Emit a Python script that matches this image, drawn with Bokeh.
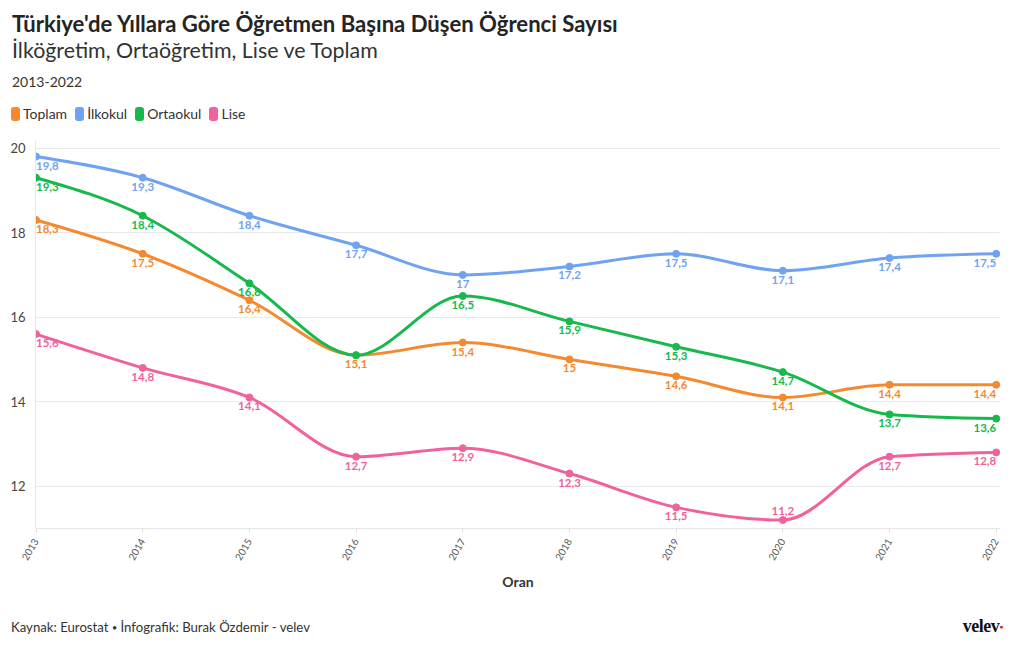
import math
import numpy as np
from bokeh.plotting import figure
from bokeh.layouts import column
from bokeh.models import Range1d, FixedTicker, ColumnDataSource, Div
from bokeh.core.properties import value
from bokeh.embed import file_html
from bokeh.resources import INLINE

# ---------------- data ----------------
years = [2013, 2014, 2015, 2016, 2017, 2018, 2019, 2020, 2021, 2022]
toplam = [18.3, 17.5, 16.4, 15.1, 15.4, 15.0, 14.6, 14.1, 14.4, 14.4]
ilkokul = [19.8, 19.3, 18.4, 17.7, 17.0, 17.2, 17.5, 17.1, 17.4, 17.5]
ortaokul = [19.3, 18.4, 16.8, 15.1, 16.5, 15.9, 15.3, 14.7, 13.7, 13.6]
lise = [15.6, 14.8, 14.1, 12.7, 12.9, 12.3, 11.5, 11.2, 12.7, 12.8]
series_names = ["Toplam", "İlkokul", "Ortaokul", "Lise"]
series_colors = ["#F38A30", "#6FA2F1", "#17B94C", "#F1629C"]
y_ticks = [12, 14, 16, 18, 20]
hidden_labels = [("Ortaokul", 2016)]
labels_above = [("Lise", 2020)]

title_text = "Türkiye'de Yıllara Göre Öğretmen Başına Düşen Öğrenci Sayısı"
subtitle_text = "İlköğretim, Ortaöğretim, Lise ve Toplam"
period_text = "2013-2022"
source_parts = ["Kaynak: Eurostat", "İnfografik: Burak Özdemir - velev"]

FONT = "Lato"
TXT = "#333333"

series_values = [toplam, ilkokul, ortaokul, lise]


def monotone_bezier(xs, ys):
    """d3 curveMonotoneX control points."""
    x = np.asarray(xs, float)
    y = np.asarray(ys, float)
    n = len(x)
    h = np.diff(x)
    s = np.diff(y) / h
    t = np.zeros(n)
    for i in range(1, n - 1):
        s0, s1 = s[i - 1], s[i]
        h0, h1 = h[i - 1], h[i]
        pp = (s0 * h1 + s1 * h0) / (h0 + h1)
        t[i] = (np.sign(s0) + np.sign(s1)) * min(abs(s0), abs(s1), 0.5 * abs(pp))
    t[0] = (3 * s[0] - t[1]) / 2
    t[-1] = (3 * s[-1] - t[-2]) / 2
    x0, x1 = x[:-1], x[1:]
    y0, y1 = y[:-1], y[1:]
    return dict(x0=x0, y0=y0, x1=x1, y1=y1,
                cx0=x0 + h / 3, cy0=y0 + h / 3 * t[:-1],
                cx1=x1 - h / 3, cy1=y1 - h / 3 * t[1:])


def fmt(v):
    s = f"{v:.1f}"
    if s.endswith(".0"):
        s = s[:-2]
    return s.replace(".", ",")


# ---------------- header ----------------
legend_html = ""
for name, col in zip(series_names, series_colors):
    legend_html += (
        f"<span style='display:inline-flex;align-items:center;margin-right:8px;'>"
        f"<span style='display:inline-block;width:9px;height:14px;border-radius:3px;"
        f"background:{col};margin-right:3px;'></span>"
        f"<span style='font-size:14px;line-height:16px;color:{TXT};'>{name}</span></span>"
    )

header_html = f"""
<div style="position:relative;width:1004px;height:128px;font-family:'{FONT}',sans-serif;">
  <div style="position:absolute;left:12px;top:13px;font-size:22.1px;line-height:22px;font-weight:bold;color:#242424;white-space:nowrap;">{title_text}</div>
  <div style="position:absolute;left:12px;top:40px;font-size:21.4px;line-height:21px;color:#333333;white-space:nowrap;">{subtitle_text}</div>
  <div style="position:absolute;left:12px;top:75px;font-size:14px;line-height:14px;color:#333333;white-space:nowrap;">{period_text}</div>
  <div style="position:absolute;left:11px;top:106px;height:16px;line-height:16px;white-space:nowrap;display:flex;align-items:center;">{legend_html}</div>
</div>
"""
header = Div(text=header_html, width=1004, height=128, margin=0)

# ---------------- figure ----------------
p = figure(
    frame_width=965, frame_height=388,
    min_border_left=35, min_border_right=4, min_border_top=12, min_border_bottom=80,
    x_range=Range1d(2012.995, 2022.04), y_range=Range1d(11.0, 20.18),
    output_backend="svg", toolbar_location=None,
    background_fill_color="white", border_fill_color="white",
)
p.outline_line_color = None

p.xgrid.grid_line_color = None
p.ygrid.grid_line_color = "#e9e9e9"
p.ygrid.ticker = FixedTicker(ticks=y_ticks)

p.yaxis.ticker = FixedTicker(ticks=y_ticks)
p.yaxis.axis_line_color = "#e6e6e6"
p.yaxis.major_tick_line_color = None
p.yaxis.minor_tick_line_color = None
p.yaxis.major_label_text_font = FONT
p.yaxis.major_label_text_font_size = "13px"
p.yaxis.major_label_text_color = "#444444"
p.yaxis.major_label_standoff = 4

p.xaxis.ticker = FixedTicker(ticks=years)
p.xaxis.axis_line_color = "#e6e6e6"
p.xaxis.major_tick_line_color = "#dddddd"
p.xaxis.major_tick_out = 4
p.xaxis.major_tick_in = 0
p.xaxis.minor_tick_line_color = None
p.xaxis.major_label_orientation = math.pi / 3
p.xaxis.major_label_text_font = FONT
p.xaxis.major_label_text_font_size = "10px"
p.xaxis.major_label_text_color = "#555555"
p.xaxis.major_label_standoff = 7
p.xaxis.axis_label = "Oran"
p.xaxis.axis_label_text_font = FONT
p.xaxis.axis_label_text_font_size = "14px"
p.xaxis.axis_label_text_font_style = "bold"
p.xaxis.axis_label_text_color = TXT
p.xaxis.axis_label_standoff = 7

for name, vals, col in zip(series_names, series_values, series_colors):
    seg = monotone_bezier(years, vals)
    p.bezier(x0="x0", y0="y0", x1="x1", y1="y1", cx0="cx0", cy0="cy0", cx1="cx1", cy1="cy1",
             source=ColumnDataSource(seg), line_color=col, line_width=3, line_cap="round")
    p.scatter(years, vals, size=7, fill_color=col, line_color=col)

for name, vals, col in zip(series_names, series_values, series_colors):
    xs, ys, ts, al, bl, yo = [], [], [], [], [], []
    for i, (yr, v) in enumerate(zip(years, vals)):
        if (name, yr) in hidden_labels:
            continue
        xs.append(yr)
        ys.append(v)
        ts.append(fmt(v))
        al.append("left" if i == 0 else ("right" if i == len(years) - 1 else "center"))
        if (name, yr) in labels_above:
            bl.append("bottom")
            yo.append(-5)
        else:
            bl.append("top")
            yo.append(5)
    src = ColumnDataSource(dict(x=xs, y=ys, t=ts, a=al, b=bl, yo=yo))
    p.text(x="x", y="y", text="t", text_align="a", text_baseline="b", y_offset="yo",
           source=src, text_color=col, text_font=value(FONT), text_font_style="bold",
           text_font_size="11.5px")

# ---------------- footer ----------------
source_html = (f"{source_parts[0]} <span style='font-size:9px;position:relative;top:-1px;'>•</span> "
               f"{source_parts[1]}")
footer_html = f"""
<div style="position:relative;width:1004px;height:42px;font-family:'{FONT}',sans-serif;">
  <div style="position:absolute;left:11px;top:12px;font-size:13.2px;line-height:14px;color:#333333;white-space:nowrap;">{source_html}</div>
  <div style="position:absolute;right:1px;top:9px;font-family:'Liberation Serif',serif;font-size:18px;line-height:18px;font-weight:bold;color:#111111;letter-spacing:-0.5px;">velev<span style="color:#e0193c;font-size:7px;vertical-align:top;position:relative;top:1px;">●</span></div>
</div>
"""
footer = Div(text=footer_html, width=1004, height=42, margin=0)

layout = column(header, p, footer, spacing=0)

with open("out.html", "w") as f:
    f.write(file_html(layout, INLINE))
